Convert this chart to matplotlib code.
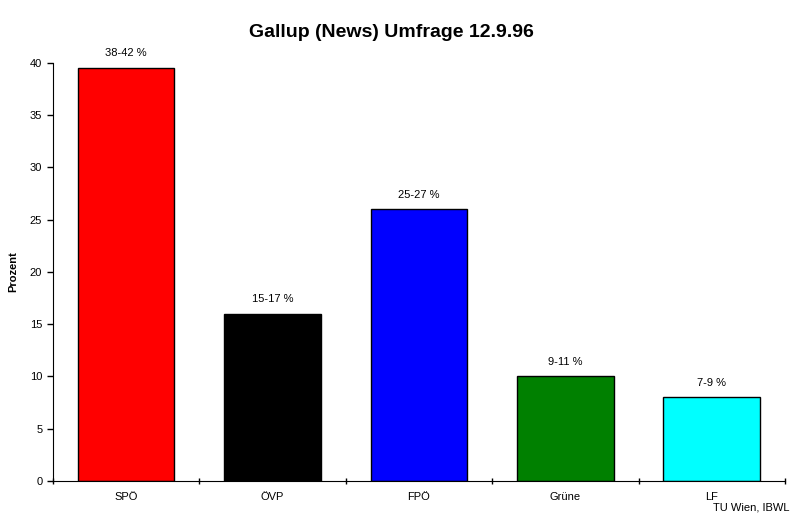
import matplotlib
matplotlib.use("Agg")
import matplotlib.pyplot as plt
import numpy as np

categories = ["SPÖ", "ÖVP", "FPÖ", "Grüne", "LF"]
values = [39.5, 16, 26, 10, 8]
labels = ["38-42 %", "15-17 %", "25-27 %", "9-11 %", "7-9 %"]
colors = ["#ff0000", "#000000", "#0000ff", "#008000", "#00ffff"]
yticks = [0, 5, 10, 15, 20, 25, 30, 35, 40]

plt.rcParams['font.family'] = ['Liberation Sans', 'DejaVu Sans']
fig = plt.figure(figsize=(8.02, 5.21), dpi=100)
ax = fig.add_axes([0.0657, 0.0768, 0.9131, 0.8029])

x = np.arange(len(categories))
bars = ax.bar(x, values, width=0.66, color=colors, edgecolor="black", linewidth=1)
for xi, v, lab in zip(x, values, labels):
    ax.text(xi, v + 0.9, lab, ha="center", va="bottom", fontsize=8)

ax.set_xlim(-0.5, len(categories) - 0.5)
ax.set_ylim(0, 40)
ax.set_yticks(yticks)
ax.set_xticks(x)
ax.set_xticklabels(categories, fontsize=8)
ax.tick_params(axis="x", length=0, pad=8)
ax.set_xticks(np.arange(-0.5, len(categories)), minor=True)
ax.tick_params(axis="x", which="minor", length=5, direction="inout", width=1)
ax.tick_params(axis="y", labelsize=8, length=4, width=1)
for s in ["top", "right"]:
    ax.spines[s].set_visible(False)
ax.set_ylabel("Prozent", fontsize=8, fontweight="bold")
ax.yaxis.set_label_coords(-0.047, 0.5)
fig.text(0.4875, 0.938, "Gallup (News) Umfrage 12.9.96", ha="center", va="center",
         fontsize=14, fontweight="bold")
fig.text(0.984, 0.025, "TU Wien, IBWL", ha="right", va="center", fontsize=8)

fig.savefig("out.png", dpi=100)
